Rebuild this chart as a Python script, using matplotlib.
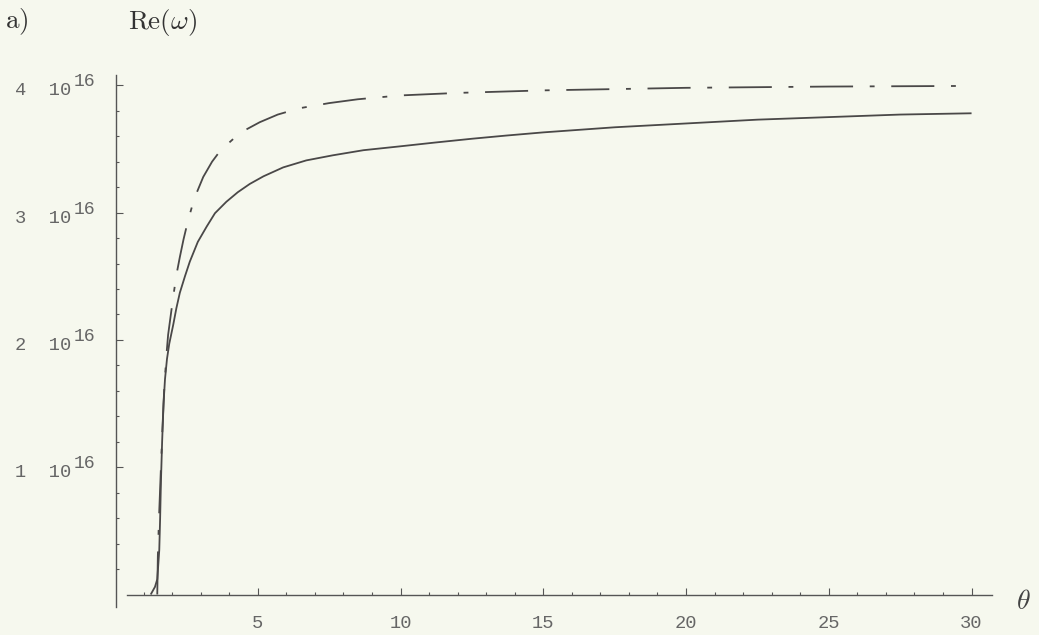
import matplotlib
matplotlib.use("Agg")
import matplotlib.pyplot as plt

# y in units of 10^16
theta_solid = [1.25, 1.40, 1.48, 1.52, 1.55, 1.58, 1.61, 1.65, 1.70, 1.75, 1.82, 1.90,
               2.04, 2.15, 2.27, 2.45, 2.62, 2.90, 3.21, 3.50, 3.90, 4.30, 4.72, 5.20,
               5.89, 6.70, 7.63, 8.70, 9.97, 11.2, 12.5, 13.7, 15.0, 17.5, 20.0, 22.5,
               25.0, 27.5, 30.0]
re_solid = [0.0, 0.06, 0.12, 0.25, 0.35, 0.60, 0.90, 1.20, 1.50, 1.69, 1.85, 1.97,
            2.12, 2.25, 2.37, 2.50, 2.615, 2.77, 2.89, 2.995, 3.085, 3.16, 3.225, 3.285,
            3.355, 3.41, 3.45, 3.49, 3.52, 3.55, 3.58, 3.605, 3.63, 3.67, 3.70, 3.73,
            3.75, 3.77, 3.78]

theta_dash = [1.48, 1.50, 1.54, 1.60, 1.66, 1.72, 1.80, 1.86, 2.04, 2.15, 2.27, 2.40,
              2.56, 2.70, 2.85, 3.09, 3.40, 3.60, 3.90, 4.20, 4.49, 5.07, 5.70, 6.47,
              7.50, 8.50, 9.97, 12.0, 15.0, 20.0, 25.0, 30.0]
re_dash = [0.0, 0.30, 0.60, 0.95, 1.30, 1.60, 1.88, 2.04, 2.34, 2.51, 2.65, 2.79,
           2.94, 3.05, 3.15, 3.28, 3.40, 3.46, 3.53, 3.59, 3.64, 3.71, 3.77, 3.82,
           3.86, 3.89, 3.92, 3.94, 3.96, 3.98, 3.99, 3.995]

x_major = [5, 10, 15, 20, 25, 30]
x_minor = [v for v in range(1, 31) if v % 5 != 0]
y_major = [1, 2, 3, 4]
y_minor = [i / 5 for i in range(1, 20) if i % 5 != 0]

bg = '#f6f8ee'
ink = '#4a4848'
grey = '#666666'

plt.rcParams['lines.scale_dashes'] = False

fig = plt.figure(figsize=(10.39, 6.35), dpi=100, facecolor=bg)
ax = fig.add_axes([0.1107, 0.0337, 0.8656, 0.8721])
ax.set_facecolor(bg)

ax.plot(theta_solid, re_solid, color=ink, linewidth=1.3, solid_capstyle='butt',
        solid_joinstyle='round')
ax.plot(theta_dash, re_dash, color=ink, linewidth=1.3, dashes=(31, 12, 3.5, 12),
        dash_capstyle='butt', dash_joinstyle='round')

ax.set_xlim(0, 31.5)
ax.set_ylim(-0.15, 4.2)

# Mathematica style axes: detached, ticks pointing inwards
for s in ['top', 'right']:
    ax.spines[s].set_visible(False)
ax.spines['left'].set_position(('data', 0.05))
ax.spines['left'].set_bounds(-0.1, 4.08)
ax.spines['bottom'].set_position(('data', 0))
ax.spines['bottom'].set_bounds(0.42, 30.7)
for s in ['left', 'bottom']:
    ax.spines[s].set_color('#555555')
    ax.spines[s].set_linewidth(1.0)

ax.set_xticks(x_major)
ax.set_xticks(x_minor, minor=True)
ax.set_yticks(y_major)
ax.set_yticks(y_minor, minor=True)
ax.set_yticklabels([])
ax.tick_params(which='both', direction='in', color='#555555', width=0.8)
ax.tick_params(which='major', length=5)
ax.tick_params(which='minor', length=2.5)
ax.tick_params(axis='x', which='major', pad=15, labelsize=13.5, labelcolor=grey)
for lab in ax.get_xticklabels():
    lab.set_family('Liberation Mono')

# y labels like "4  10^16"
for v in y_major:
    ax.annotate('%d  10' % v, xy=(0.05, v), xytext=(-45, -10), textcoords='offset pixels',
                ha='right', va='baseline', fontsize=13.5, color=grey,
                family='Liberation Mono', annotation_clip=False)
    ax.annotate('16', xy=(0.05, v), xytext=(-43, -1), textcoords='offset pixels',
                ha='left', va='baseline', fontsize=13, color=grey,
                family='Liberation Mono', annotation_clip=False)

fig.text(0.005, 0.955, r'$\mathrm{a)}$', math_fontfamily='cm', fontsize=19.5,
         color='#333333', ha='left', va='baseline')
fig.text(0.123, 0.955, r'$\mathrm{Re}(\omega)$', math_fontfamily='cm', fontsize=19.5,
         color='#333333', ha='left', va='baseline')
fig.text(0.985, 0.054, r'$\theta$', math_fontfamily='cm', fontsize=20,
         color='#444444', ha='center', va='center')

fig.savefig('out.png', dpi=100, facecolor=bg)
